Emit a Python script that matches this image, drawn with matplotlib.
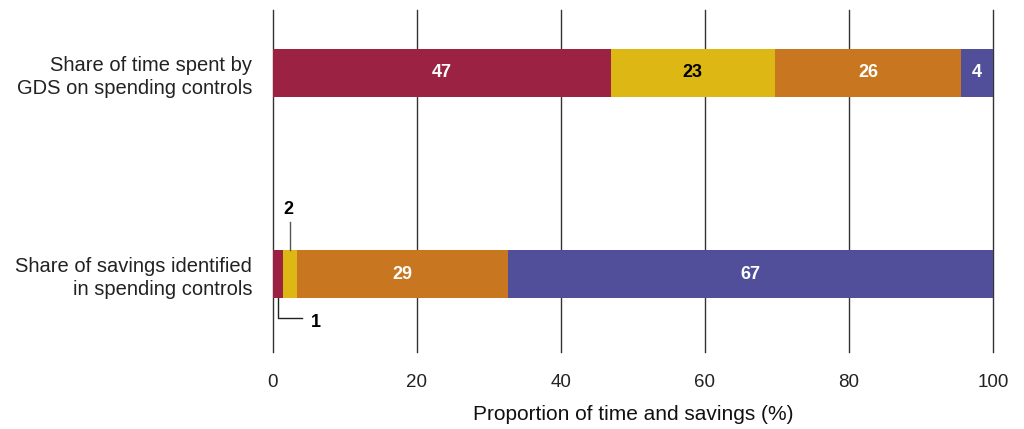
import numpy as np
import matplotlib.pyplot as plt

plt.rcParams['font.family'] = ['Liberation Sans', 'DejaVu Sans']

rows = ['Share of savings identified\nin spending controls',
        'Share of time spent by\nGDS on spending controls']
time_vals = [46.9, 22.8, 25.9, 4.4]
time_labels = ['47', '23', '26', '4']
saving_vals = [1.4, 1.9, 29.3, 67.4]
saving_labels = ['', '', '29', '67']
colors = ['#9B2242', '#DDB814', '#C87620', '#524F9A']
label_colors = ['white', 'black', 'white', 'white']

fig = plt.figure(figsize=(10.24, 4.29), dpi=100)
ax = fig.add_axes([0.2666, 0.179, 0.7031, 0.798])

h = 0.239
for y, vals, labs in [(1, time_vals, time_labels), (0, saving_vals, saving_labels)]:
    left = 0
    for v, c, lab, lc in zip(vals, colors, labs, label_colors):
        ax.barh(y, v, left=left, height=h, color=c, zorder=2)
        if lab:
            ax.text(left + v / 2, y, lab, ha='center', va='center', color=lc,
                    fontsize=13, fontweight='bold', zorder=3)
        left += v

# callouts for the small segments
x2 = saving_vals[0] + saving_vals[1] / 2
ax.plot([x2, x2], [h / 2, 0.259], color='#555555', lw=1, zorder=3, clip_on=False)
ax.text(x2 - 0.2, 0.32, '2', ha='center', va='center', fontsize=13, fontweight='bold')
x1 = saving_vals[0] / 2
ax.plot([x1, x1, 4.0], [-h / 2, -0.219, -0.219], color='#222222', lw=1, zorder=3, clip_on=False)
ax.text(6.0, -0.24, '1', ha='center', va='center', fontsize=13, fontweight='bold')

ax.set_xlim(0, 100)
ax.set_ylim(-0.388, 1.313)
ax.set_xticks(np.arange(0, 101, 20))
ax.set_yticks([0, 1])
ax.set_yticklabels(rows, fontsize=14.5, color='#222222', linespacing=1.25)
ax.xaxis.grid(True, color='#333333', lw=1, zorder=0)
for gl in ax.get_xgridlines():
    gl.set_clip_on(False)
ax.set_axisbelow(True)
for s in ax.spines.values():
    s.set_visible(False)
ax.tick_params(axis='x', length=0, pad=16, labelsize=13.5, labelcolor='#222222')
ax.tick_params(axis='y', length=0, pad=15)
ax.set_xlabel('Proportion of time and savings (%)', fontsize=15, color='#111111', labelpad=10)

fig.savefig('out.png', dpi=100)
